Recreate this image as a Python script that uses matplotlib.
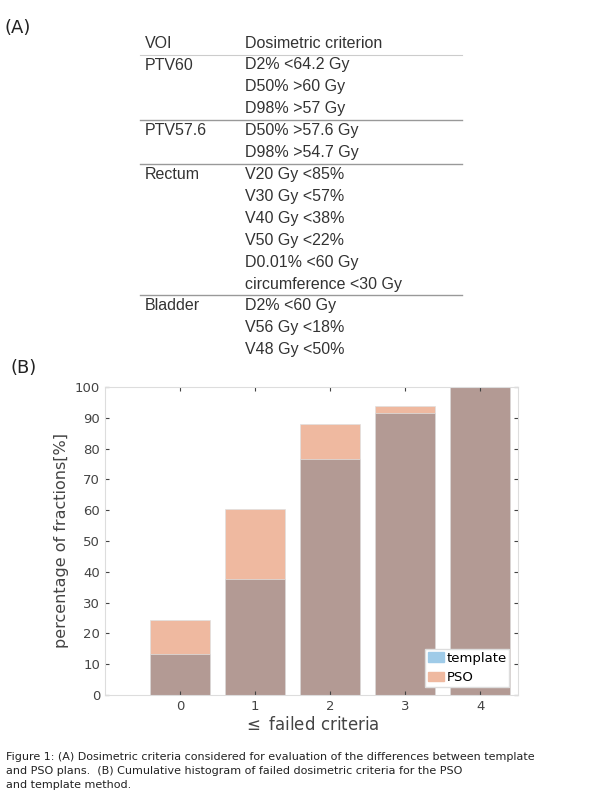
import matplotlib.pyplot as plt
from matplotlib.lines import Line2D
from matplotlib.patches import Patch

# table (A)
voi = ['PTV60', '', '', 'PTV57.6', '', 'Rectum', '', '', '', '', '', 'Bladder', '', '']
crit = ['D2% <64.2 Gy', 'D50% >60 Gy', 'D98% >57 Gy',
        'D50% >57.6 Gy', 'D98% >54.7 Gy',
        'V20 Gy <85%', 'V30 Gy <57%', 'V40 Gy <38%', 'V50 Gy <22%',
        'D0.01% <60 Gy', 'circumference <30 Gy',
        'D2% <60 Gy', 'V56 Gy <18%', 'V48 Gy <50%']
sep_after = [2, 4, 10]

# histogram (B)
fails = [0, 1, 2, 3, 4]
template = [13.2, 37.6, 76.5, 91.7, 100]
pso = [24.3, 60.3, 88.1, 93.8, 100]

W, H = 600, 800
fig = plt.figure(figsize=(6, 8), dpi=100)
fx = lambda x: x / W
fy = lambda y: 1 - y / H

fig.text(fx(5), fy(28), '(A)', fontsize=13, va='center', color='#222')
fig.text(fx(145), fy(43), 'VOI', fontsize=11.5, va='center', color='#333', family='Liberation Sans')
fig.text(fx(245), fy(43), 'Dosimetric criterion', fontsize=11.5, va='center', color='#333', family='Liberation Sans')
fig.add_artist(Line2D([fx(140), fx(462)], [fy(55), fy(55)], color='#ccc', lw=0.8))
row_h = 21.9
for i, (v, c) in enumerate(zip(voi, crit)):
    y = 65 + i * row_h
    fig.text(fx(145), fy(y), v, fontsize=11.5, va='center', color='#333', family='Liberation Sans')
    fig.text(fx(245), fy(y), c, fontsize=11.5, va='center', color='#333', family='Liberation Sans')
    if i in sep_after:
        ly = y + row_h / 2
        fig.add_artist(Line2D([fx(140), fx(462)], [fy(ly), fy(ly)], color='#999', lw=1))

fig.text(fx(10), fy(368), '(B)', fontsize=13, va='center', color='#222')

ax = fig.add_axes([fx(105), fy(695), fx(518 - 105), (695 - 387) / H])
ax.bar(fails, pso, width=0.8, color='#efb9a0', edgecolor='#e0e0e0', lw=0.5)
ax.bar(fails, template, width=0.8, color='#b39a94', edgecolor='#e0e0e0', lw=0.5)
ax.set_xlim(-1, 4.5)
ax.set_ylim(0, 100)
ax.set_yticks(range(0, 101, 10))
ax.set_xticks(fails)
ax.tick_params(colors='#444', labelsize=9.5, direction='in', top=True, right=True, length=3)
for s in ax.spines.values():
    s.set_color('#ddd')
ax.set_xlabel(r'$\leq$ failed criteria', fontsize=12, color='#444', labelpad=2)
ax.set_ylabel('percentage of fractions[%]', fontsize=11.5, color='#444')
ax.legend(handles=[Patch(color='#9fcbe8', label='template'), Patch(color='#efb9a0', label='PSO')],
          loc='lower right', fontsize=9.5, handlelength=1.2, handletextpad=0.2,
          borderpad=0.2, fancybox=False, framealpha=1, edgecolor='#ddd',
          bbox_to_anchor=(0.995, 0.005))

cap = ('Figure 1: (A) Dosimetric criteria considered for evaluation of the differences between template\n'
       'and PSO plans.  (B) Cumulative histogram of failed dosimetric criteria for the PSO\n'
       'and template method.')
fig.text(fx(6), fy(752), cap, fontsize=8, va='top', color='#222', linespacing=1.5)

fig.savefig('out.png', dpi=100)
